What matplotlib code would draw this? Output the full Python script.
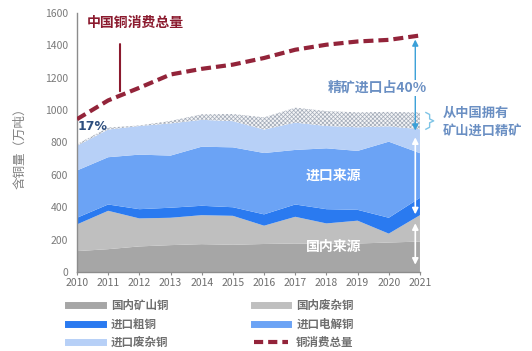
import matplotlib
matplotlib.use("Agg")
import matplotlib.pyplot as plt
import numpy as np
from matplotlib.lines import Line2D

plt.rcParams["font.family"] = ["Noto Sans CJK SC", "DejaVu Sans"]
plt.rcParams["hatch.linewidth"] = 0.5

# =====================================================
# Data (万吨)
# =====================================================
years = list(range(2010, 2022))
year_labels = [str(y) for y in years]

domestic_mine = [129, 141, 158, 166, 172, 168, 173, 176, 173, 176, 182, 188]
domestic_scrap = [165, 237, 173, 169, 179, 179, 113, 165, 127, 141, 55, 163]
import_blister = [41, 39, 57, 62, 58, 53, 70, 76, 88, 67, 98, 107]
import_cathode = [292, 292, 337, 322, 365, 370, 379, 337, 376, 364, 470, 276]
import_scrap = [153, 171, 177, 199, 166, 162, 145, 169, 138, 146, 95, 148]
owned_mine_conc = [10, 12, 3, 15, 34, 44, 75, 92, 92, 92, 89, 103]
consumption = [944, 1060, 1138, 1220, 1255, 1281, 1322, 1373, 1404, 1424, 1434, 1461]

y_ticks = [0, 200, 400, 600, 800, 1000, 1200, 1400, 1600]

series_names = ["国内矿山铜", "国内废杂铜", "进口粗铜", "进口电解铜", "进口废杂铜"]
series_colors = ["#a6a6a6", "#bfbfbf", "#2a7af0", "#6ba3f5", "#b7d0f7"]
line_name = "铜消费总量"
line_color = "#93243a"

# =====================================================
# Figure
# =====================================================
fig = plt.figure(figsize=(5.32, 3.51), dpi=100)
ax = fig.add_axes([0.1447, 0.2251, 0.6447, 0.7379])

layers = [domestic_mine, domestic_scrap, import_blister, import_cathode, import_scrap]
ax.stackplot(years, layers, colors=series_colors, linewidth=0)

stack_top = np.sum(layers, axis=0)
hatch_top = stack_top + np.array(owned_mine_conc)
ax.fill_between(
    years, stack_top, hatch_top,
    facecolor="#f4f5f7", edgecolor="#a3abb8", hatch="xxxxxxxx", linewidth=0,
)

ax.plot(
    years, consumption, color=line_color, linewidth=3,
    linestyle=(0, (2.4, 1.2)), dash_capstyle="butt", zorder=5,
)

ax.set_xlim(2010, 2021)
ax.set_ylim(0, 1600)
ax.set_xticks(years)
ax.set_xticklabels(year_labels)
ax.set_yticks(y_ticks)
ax.tick_params(axis="x", length=2.5, pad=2, labelsize=7.5, colors="#8c8c8c",
               labelcolor="#6e6e6e")
ax.tick_params(axis="y", length=0, pad=6.5, labelsize=7.5, labelcolor="#7a7a7a")
for side in ["top", "right"]:
    ax.spines[side].set_visible(False)
for side in ["left", "bottom"]:
    ax.spines[side].set_color("#8c8c8c")
    ax.spines[side].set_linewidth(1)

fig.text(0.037, 0.585, "含铜量（万吨）", rotation=90, ha="center", va="center",
         fontsize=9, color="#7f7f7f")

# =====================================================
# Annotations
# =====================================================
ax.text(2011.86, 1537, "中国铜消费总量", ha="center", va="center",
        fontsize=10, fontweight="bold", color="#8b1a2e")
lead_x = 2011.38
ax.annotate("", xy=(lead_x, np.interp(lead_x, years, consumption) + 10),
            xytext=(lead_x, 1425),
            arrowprops=dict(arrowstyle="-", color="#8b1a2e", lw=1.5))

ax.text(2010.51, 896, "17%", ha="center", va="center", fontsize=9,
        fontweight="bold", color="#2d4e7e", family="DejaVu Sans")

arrow_x = 2020.85
ax.annotate("", xy=(arrow_x, consumption[-1] - 25), xytext=(arrow_x, stack_top[-1] - 8),
            arrowprops=dict(arrowstyle="<|-|>", color="#3aa0d8", lw=1,
                            mutation_scale=9, shrinkA=0, shrinkB=0),
            zorder=6)
ax.text(2019.62, 1137, "精矿进口占40%", ha="center", va="center", fontsize=10,
        fontweight="bold", color="#6a8fc3", zorder=7,
        bbox=dict(facecolor="white", edgecolor="none", pad=0.5))

# bracket around the hatched band
b_top, b_bot = hatch_top[-1], stack_top[-1]
b_mid = (b_top + b_bot) / 2
ax.plot([2021.19, 2021.31, 2021.31, 2021.44, 2021.31, 2021.31, 2021.19],
        [b_top, b_top - 12, b_mid + 12, b_mid, b_mid - 12, b_bot + 12, b_bot],
        color="#7ec4e6", lw=1, clip_on=False)
ax.text(2021.73, 927, "从中国拥有\n矿山进口精矿", ha="left", va="center",
        fontsize=9.5, fontweight="bold", color="#6a8fc3", linespacing=1.35)

domestic_top = domestic_mine[-1] + domestic_scrap[-1]
ax.annotate("", xy=(arrow_x, stack_top[-1] - 50), xytext=(arrow_x, domestic_top + 5),
            arrowprops=dict(arrowstyle="<|-|>", color="white", lw=1.2,
                            mutation_scale=9, shrinkA=0, shrinkB=0))
ax.annotate("", xy=(arrow_x, domestic_top - 50), xytext=(arrow_x, 45),
            arrowprops=dict(arrowstyle="<|-|>", color="white", lw=1.2,
                            mutation_scale=9, shrinkA=0, shrinkB=0))

ax.text(2018.24, 593, "进口来源", ha="center", va="center", fontsize=10,
        fontweight="bold", color="white")
ax.text(2018.24, 154, "国内来源", ha="center", va="center", fontsize=10,
        fontweight="bold", color="white")

# =====================================================
# Legend (row-major order in the picture)
# =====================================================
handles = [Line2D([0], [0], color=c, lw=5) for c in series_colors]
handles.append(Line2D([0], [0], color=line_color, lw=3, linestyle=(0, (2.2, 1.2))))
labels = series_names + [line_name]
order = [0, 2, 4, 1, 3, 5]
fig.legend(
    [handles[i] for i in order], [labels[i] for i in order],
    loc="upper left", bbox_to_anchor=(0.128, 0.148), ncol=2, frameon=False,
    handlelength=3.0, handletextpad=0.7, columnspacing=7.4,
    labelspacing=0.48, borderpad=0, borderaxespad=0,
    labelcolor="#6e6e6e", prop={"weight": "bold", "size": 8.3},
)

fig.savefig("out.png", dpi=100)
